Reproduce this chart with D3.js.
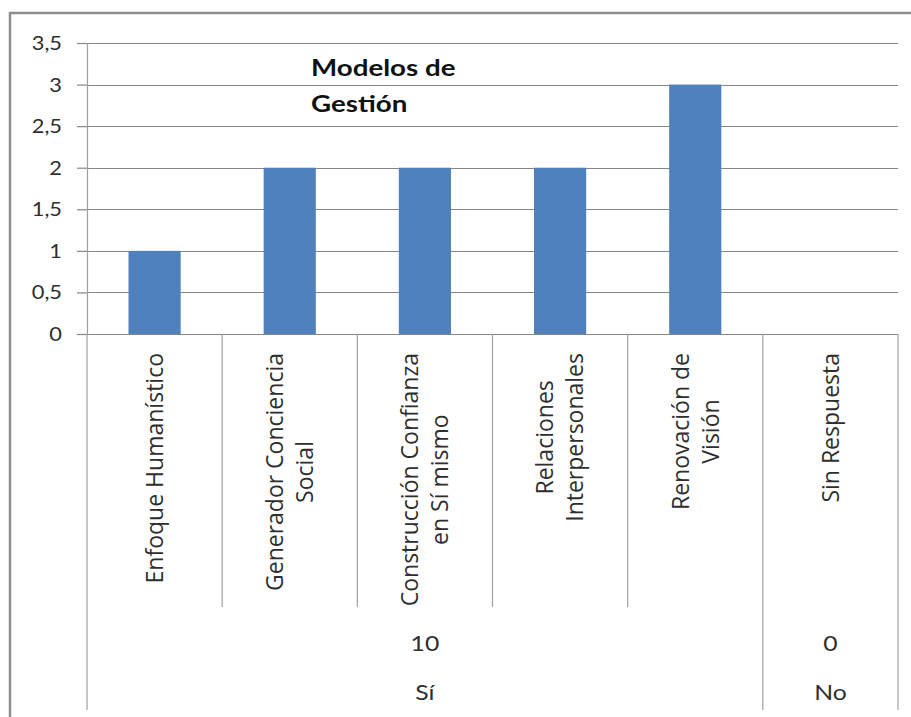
<!DOCTYPE html>
<html><head><meta charset="utf-8">
<script src="https://cdn.jsdelivr.net/npm/d3@7"></script>
<style>body{margin:0;background:#fff}</style>
</head><body>
<svg id="c" width="911" height="717"></svg>
<script>
const categories = ["Enfoque Humanístico","Generador Conciencia\nSocial","Construcción Confianza\nen Sí mismo","Relaciones\nInterpersonales","Renovación de\nVisión","Sin Respuesta"];
const values = [1,2,2,2,3,0];
const groups = ["Sí","Sí","Sí","Sí","Sí","No"];
const groupNames = ["Sí","No"];
const groupTotals = [10,0];
const yTicks = [0,0.5,1,1.5,2,2.5,3,3.5];
const titleLines = ["Modelos de","Gestión"];

const svg = d3.select("#c");
const L = 87, R = 898, T = 43, B = 334;
const x = d3.scaleBand().domain(d3.range(categories.length)).range([L, R]).padding(0);
const y = d3.scaleLinear().domain([0, 3.5]).range([B, T]);
const bw = x.bandwidth();
const gridColor = "#868686", axisColor = "#a0a0a0";
const hFont = "Lato, 'Open Sans', sans-serif";
const textColor = "#2e2e2e";
const sx = 1.18;

// outer border
svg.append("path").attr("d", "M10,717V13H911").attr("fill","none").attr("stroke","#8e8e8e").attr("stroke-width",2.5);

// gridlines
svg.append("g").selectAll("line").data(yTicks.filter(d=>d>0)).join("line")
  .attr("x1", L).attr("x2", R).attr("y1", d=>Math.round(y(d))+0.5).attr("y2", d=>Math.round(y(d))+0.5)
  .attr("stroke", gridColor).attr("stroke-width", 1.2);

// bars
svg.append("g").selectAll("rect").data(values).join("rect")
  .attr("x", (d,i)=>x(i)+bw/2-bw*0.193).attr("width", bw*0.386)
  .attr("y", d=>y(d)).attr("height", d=>y(0)-y(d))
  .attr("fill", "#4f81bd");

// y axis
const yAxis = svg.append("g").attr("transform", `translate(${L},0)`)
  .call(d3.axisLeft(y).tickValues(yTicks).tickSize(10).tickSizeOuter(0).tickFormat(d=>String(d).replace(".",",")));
yAxis.select(".domain").attr("stroke", axisColor).attr("stroke-width",1.2);
yAxis.selectAll(".tick line").attr("stroke", gridColor).attr("stroke-width",1.2);
yAxis.selectAll(".tick text").each(function(){
  const t = d3.select(this);
  t.attr("x", null).attr("dy", null).attr("text-anchor","end")
   .attr("transform", `translate(-25,6.5) scale(${sx},1)`)
   .style("font-family", hFont).style("font-size","18.5px").attr("fill",textColor);
});
yAxis.attr("font-size", null).attr("font-family", null);

// x axis baseline
svg.append("line").attr("x1", L).attr("x2", R).attr("y1", Math.round(y(0))+0.5).attr("y2", Math.round(y(0))+0.5)
  .attr("stroke", gridColor).attr("stroke-width",1.2);

// separators
const bounds = d3.range(categories.length+1);
svg.append("g").selectAll("line").data(bounds).join("line")
  .attr("x1", i=> i===categories.length ? R : x(i)).attr("x2", i=> i===categories.length ? R : x(i))
  .attr("y1", B)
  .attr("y2", i => (i===0 || i===categories.length || groups[i]!==groups[i-1]) ? 710 : 607)
  .attr("stroke", axisColor).attr("stroke-width",1.2);

// rotated category labels
const fs = 23, ls = 30;
categories.forEach((c,i)=>{
  const lines = c.split("\n");
  const cx = x(i)+bw/2;
  const g = svg.append("g").attr("transform", `translate(${cx},353) rotate(-90)`);
  const texts = lines.map((ln,k)=> g.append("text").text(ln)
      .attr("text-anchor","middle")
      .attr("y", (k-(lines.length-1)/2)*ls + 0.36*fs)
      .style("font-family","'Open Sans', sans-serif").style("font-size", fs+"px").attr("fill",textColor));
  const maxL = d3.max(texts, t=>t.node().getComputedTextLength());
  texts.forEach(t=>t.attr("x", -maxL/2));
});

// group labels
groupNames.forEach((gName,gi)=>{
  const idx = groups.map((g,i)=>g===gName?i:-1).filter(i=>i>=0);
  const cx = (x(d3.min(idx)) + x(d3.max(idx)) + bw)/2;
  svg.append("text").text(groupTotals[gi]).attr("text-anchor","middle")
    .attr("transform", `translate(${cx},651) scale(${sx},1)`)
    .style("font-family", hFont).style("font-size","21px").attr("fill",textColor);
  svg.append("text").text(gName).attr("text-anchor","middle")
    .attr("transform", `translate(${cx},700) scale(${sx},1)`)
    .style("font-family", hFont).style("font-size","21px").attr("fill",textColor);
});

// title
titleLines.forEach((t,k)=>{
  svg.append("text").text(t)
    .attr("transform", `translate(311,${76+k*36}) scale(${sx},1)`)
    .style("font-family", hFont).style("font-weight","bold").style("font-size","23.5px").attr("fill","#111");
});
</script>
</body></html>
